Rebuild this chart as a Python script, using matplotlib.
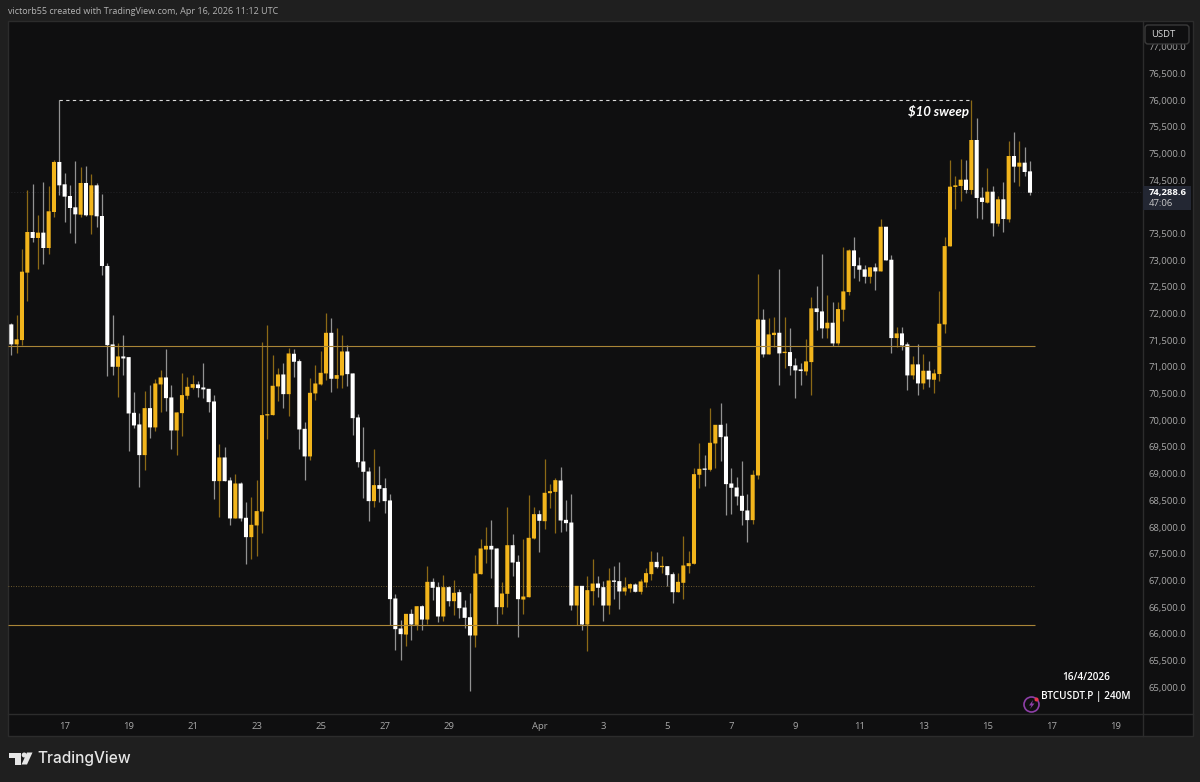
import matplotlib
matplotlib.use('Agg')
import matplotlib.pyplot as plt
from matplotlib.patches import Circle, FancyBboxPatch, Polygon, Rectangle

# 240M candles
opens = [
    71799, 71424, 71505, 72769, 73531, 73419, 73519, 73231, 73906, 74844,
    74425, 74206, 73994, 73856, 74450, 73844, 74406, 73831, 72894,
    71423, 71004, 71198, 71185, 70141, 69923, 69348, 70229, 69867,
    70673, 70804, 70429, 69810, 70135, 70460, 70610, 70673, 70616, 70591,
    70354, 68860, 69304, 68873, 68160, 68816, 68173, 67810, 68029, 68291,
    70091, 70098, 70635, 70860, 70491, 71248, 71110, 69841, 69323, 70504,
    70673, 70879, 71641, 70779, 70841, 71291, 70879, 70054, 69229, 69041,
    68485, 68785, 68729, 68498, 66660, 66097, 65984, 66372, 66165, 66515,
    66265, 66972, 66872, 66322, 66872, 66609, 66778, 66490, 66309, 65966,
    67116, 67578, 67647, 67597, 66497, 66747, 67659, 67347, 66640, 66684,
    67784, 68241, 68109, 68634, 68659, 68872, 68134, 68084, 66528, 66897,
    66172, 66797, 66941, 66872, 66528, 66997, 66985, 66791, 66847, 66922,
    66785, 66960, 67116, 67347, 67247, 67266, 67116, 66778, 66954, 67266,
    67310, 68979, 69091, 69072, 69566, 69916, 69697, 68816, 68741, 68585,
    68310, 68129, 68966, 71886, 71236, 71599, 71642, 71261, 71280, 71030,
    70955, 70917, 71092, 72099, 72042, 71724, 71830, 71442, 72074, 72405,
    73186, 72905, 72830, 72692, 72868, 72792, 73630, 73011, 71542, 71630,
    71424, 70842, 71049, 70692, 70930, 70761, 70868, 71799, 73262, 74375,
    74394, 74512, 74319, 75256, 74175, 74081, 74287, 73687, 74144, 73768,
    74956, 74756, 74831, 74668,
]
highs = [
    71830, 71968, 73205, 74312, 74437, 73844, 74475, 74394, 74875, 76000,
    74644, 74406, 74862, 74756, 74769, 74619, 74444, 74237, 72944,
    71966, 71441, 71591, 71185, 70529, 70141, 70554, 70654, 70779,
    70935, 71341, 70654, 70148, 70879, 70804, 70854, 70729, 71079, 70591,
    70473, 69554, 69491, 68941, 68991, 68848, 68473, 68560, 68873, 71466,
    71785, 71223, 70979, 71079, 71360, 71341, 71141, 69966, 70791, 71029,
    71304, 72004, 71923, 71735, 71591, 71404, 70879, 70123, 69866, 69129,
    69466, 69135, 68923, 68623, 66741, 66265, 66372, 66465, 66515, 66540,
    67278, 67053, 66978, 67109, 66903, 66997, 66841, 66640, 66766, 67478,
    67784, 67991, 68140, 67597, 66978, 68366, 67866, 67478, 67766, 68609,
    68378, 68328, 69278, 68815, 68922, 69128, 68497, 68628, 66897, 66897,
    67078, 67391, 67078, 66985, 67235, 67266, 67347, 67054, 66950, 66941,
    67016, 67222, 67547, 67522, 67454, 67266, 67154, 67129, 67822, 67541,
    69097, 69579, 69341, 70235, 69916, 70329, 69941, 69104, 68941, 69229,
    68616, 69066, 72736, 72092, 71911, 71942, 72842, 71936, 71730, 71161,
    71080, 71530, 72317, 72524, 73124, 72342, 72224, 72224, 73255, 73217,
    73442, 73067, 72917, 72880, 72942, 73767, 73630, 73092, 71742, 71742,
    71467, 71199, 71424, 71236, 71105, 70955, 72417, 73442, 74881, 74581,
    74894, 74875, 76000, 75675, 74381, 74737, 74393, 74206, 74468, 75237,
    75412, 75237, 75131, 74862,
]
lows = [
    71218, 71268, 71405, 72237, 73344, 72844, 72925, 73119, 73819, 74219,
    73719, 73506, 73331, 73819, 73831, 73487, 73631, 72731, 70829,
    70854, 70441, 70841, 69423, 69854, 68748, 69060, 69666, 69798,
    70154, 70166, 69454, 69348, 69698, 70391, 70579, 70441, 70416, 70160,
    68516, 68179, 68860, 68029, 68160, 68110, 67298, 67391, 67454, 67891,
    69641, 70098, 70354, 70223, 70079, 70804, 69466, 68873, 69254, 70379,
    70654, 70748, 70529, 70610, 70610, 70635, 69729, 69123, 68541, 68110,
    68366, 68466, 68260, 66167, 65685, 65503, 65766, 65890, 66065, 66078,
    66190, 66640, 66228, 66240, 66515, 66359, 66290, 66109, 64916, 65753,
    67116, 67328, 67047, 66190, 66365, 66497, 67072, 65934, 66365, 66684,
    67784, 67540, 67965, 68347, 67891, 67903, 67922, 66453, 66172, 66065,
    65678, 66547, 66685, 66235, 66360, 66641, 66472, 66722, 66785, 66785,
    66735, 66872, 66997, 67222, 67141, 66903, 66566, 66778, 66641, 67129,
    67310, 68735, 68760, 69054, 69097, 69235, 68229, 68241, 68404, 68029,
    67716, 68060, 68900, 71186, 71236, 71367, 70661, 70974, 70849, 70424,
    70661, 70842, 70467, 71686, 71542, 71536, 71392, 71411, 71861, 72342,
    72661, 72605, 72567, 72580, 72449, 72792, 72999, 71255, 71374, 71317,
    70561, 70780, 70467, 70580, 70624, 70517, 70730, 71636, 73262, 73956,
    74112, 74268, 74237, 73787, 73768, 74081, 73456, 73643, 73531, 73718,
    74468, 74393, 74581, 74219,
]
closes = [
    71424, 71518, 72787, 73531, 73419, 73519, 73231, 73919, 74844, 74406,
    74194, 73981, 73862, 74450, 73844, 74406, 73825, 72894, 71410,
    71004, 71198, 71160, 70129, 69904, 69348, 70229, 69867, 70691,
    70804, 70416, 69810, 70148, 70473, 70629, 70679, 70604, 70579, 70341,
    68860, 69304, 68860, 68160, 68816, 68160, 67810, 68041, 68298, 70098,
    70110, 70648, 70860, 70491, 71254, 71098, 69829, 69323, 70516, 70691,
    70891, 71641, 70779, 70848, 71291, 70866, 70041, 69216, 69035, 68485,
    68785, 68716, 68485, 66648, 66085, 65991, 66372, 66172, 66515, 66265,
    66972, 66860, 66322, 66872, 66609, 66766, 66478, 66297, 65966, 67128,
    67597, 67647, 67578, 66497, 66753, 67659, 67334, 66647, 66697, 67797,
    68241, 68116, 68641, 68672, 68878, 68122, 68072, 66528, 66897, 66172,
    66816, 66940, 66860, 66528, 66997, 66972, 66791, 66866, 66928, 66785,
    66979, 67135, 67347, 67247, 67266, 67097, 66778, 66972, 67279, 67322,
    68991, 69091, 69072, 69579, 69916, 69685, 68804, 68735, 68572, 68304,
    68129, 68979, 71892, 71236, 71611, 71642, 71255, 71286, 71017, 70936,
    70924, 71105, 72099, 72030, 71724, 71830, 71442, 72086, 72417, 73186,
    72892, 72824, 72692, 72868, 72792, 73630, 72999, 71542, 71630, 71405,
    70842, 71049, 70692, 70930, 70767, 70880, 71811, 73267, 74381, 74406,
    74512, 74319, 75256, 74169, 74094, 74287, 73694, 74144, 73775, 74956,
    74756, 74831, 74656, 74268,
]

day_ticks = [10, 22, 34, 46, 58, 70, 82, 99, 111, 123, 135, 147, 159, 171, 183, 195, 207]
day_labels = ['17', '19', '21', '23', '25', '27', '29', 'Apr', '3', '5', '7', '9', '11', '13', '15', '17', '19']
price_ticks = [65000 + 500 * n for n in range(25) if n != 18]

levels = [71400, 66170]
dotted_level = 66900
last_price = 74288.6
sweep_price = 76000
sweep_from = 9
sweep_to = 180

GOLD = '#f2b51c'
WHITE = '#ffffff'
BG = '#1f1f1f'
PANEL = '#0f0f10'
EDGE = '#2c2c2c'
TICK = '#a8a8a8'
FONT = 'Open Sans'

fig = plt.figure(figsize=(12, 7.82), dpi=100, facecolor=BG)


def px_axes(zorder):
    # axes in image pixels, for everything around the chart
    a = fig.add_axes([0, 0, 1, 1], zorder=zorder)
    a.set_xlim(0, 1200)
    a.set_ylim(782, 0)
    a.axis('off')
    return a


back = px_axes(0)
back.add_patch(Rectangle((7.5, 20.5), 1185, 715, facecolor=PANEL, edgecolor=EDGE, lw=1))
back.plot([7.5, 1192.5], [714, 714], color=EDGE, lw=1)
back.plot([1142.5, 1142.5], [20.5, 735.5], color=EDGE, lw=1)

ax = fig.add_axes([8 / 1200, 1 - 714 / 782, (1142 - 8) / 1200, (714 - 21) / 782], zorder=1)
ax.set_facecolor('none')
for s in ax.spines.values():
    s.set_visible(False)
ax.set_xlim(-0.62, 212.0)
ax.set_ylim(64494, 77487)

xs = list(range(len(opens)))
colors = [GOLD if c >= o else WHITE for o, c in zip(opens, closes)]
ax.vlines(xs, lows, highs, colors=colors, lw=0.9, alpha=0.55, zorder=3)
# no snapping, otherwise the bodies come out 3 or 5 px wide
ax.bar(xs, [max(abs(c - o), 25) for o, c in zip(opens, closes)],
       bottom=[min(o, c) for o, c in zip(opens, closes)],
       width=0.76, color=colors, linewidth=0, zorder=4, snap=False)

for level in levels:
    ax.hlines(level, -0.62, 192, color='#a98537', lw=0.8, zorder=5)
ax.hlines(dotted_level, -0.62, 192, color='#8a7238', lw=0.6, linestyles=(0, (1, 2)), zorder=2)
ax.hlines(last_price, -0.62, 212, color='#26262a', lw=0.7, linestyles=(0, (1, 2)), zorder=1)
ax.hlines(sweep_price, sweep_from, sweep_to, color='#d8d8d8', lw=0.8, linestyles=(0, (3, 3)), zorder=5)
ax.text(179.6, 75790, '$10 sweep', color='white', fontsize=9.5, fontweight='bold', fontstyle='italic',
        family='Lato', ha='right', va='center', zorder=6)

ax.set_xticks(day_ticks)
ax.set_xticklabels(day_labels, fontsize=6.8, color=TICK, family=FONT)
ax.tick_params(axis='x', length=0, pad=6)
ax.yaxis.tick_right()
ax.set_yticks(price_ticks)
ax.set_yticklabels([f'{p:,.1f}' for p in price_ticks], fontsize=6.8, color=TICK, family=FONT)
ax.tick_params(axis='y', length=0, pad=4.5)

top = px_axes(2)
top.text(8, 11, 'victorb55 created with TradingView.com, Apr 16, 2026 11:12 UTC',
         color='#b4b4b4', fontsize=6.45, family=FONT, va='center')

# currency button, covers the top of the 77,000 label
top.add_patch(FancyBboxPatch((1145, 25), 44, 19, boxstyle='round,pad=0,rounding_size=3',
                             facecolor=PANEL, edgecolor='#3a3a3a', lw=1))
top.text(1151, 34.5, 'USDT', color='#d8d8d8', fontsize=6.8, family=FONT, va='center')

# last price tag
top.add_patch(Rectangle((1143, 186), 48, 24, facecolor='#232733', edgecolor='none'))
top.text(1149, 192.5, f'{last_price:,.1f}', color='white', fontsize=6.8, family=FONT,
         fontweight='bold', va='center')
top.text(1149, 203, '47:06', color='#c8c8c8', fontsize=6.8, family=FONT, va='center')

top.text(1086, 678, '16/4/2026', color='white', fontsize=7.2, family=FONT, fontweight='semibold',
         ha='center', va='center')
top.text(1086, 697, 'BTCUSDT.P | 240M', color='white', fontsize=7.2, family=FONT, fontweight='semibold',
         ha='center', va='center')

# alert icon
top.add_patch(Circle((1031.5, 704.5), 7.5, facecolor='none', edgecolor='#8e3fa8', lw=1.2))
top.add_patch(Polygon([(1033, 700), (1029, 705.5), (1031.5, 705.5), (1030, 709),
                       (1034.5, 703.5), (1032, 703.5)], facecolor='#8e3fa8', edgecolor='none'))
top.add_patch(Circle((1036.5, 699.5), 2, facecolor='#e8344e', edgecolor='none'))

# TradingView logo
logo = '#e6e6e6'
top.add_patch(Polygon([(9, 752.5), (21, 752.5), (21, 764.5), (15, 764.5), (15, 757.5), (9, 757.5)],
                      facecolor=logo, edgecolor='none'))
top.add_patch(Circle((24.2, 755), 2.5, facecolor=logo, edgecolor='none'))
top.add_patch(Polygon([(27, 752.5), (32.5, 752.5), (27, 764.5), (21.5, 764.5)],
                      facecolor=logo, edgecolor='none'))
top.text(37.5, 759, 'TradingView', color=logo, fontsize=11.1, family='Inter', fontweight='medium', va='center')

fig.savefig('out.png', dpi=100, facecolor=BG)
